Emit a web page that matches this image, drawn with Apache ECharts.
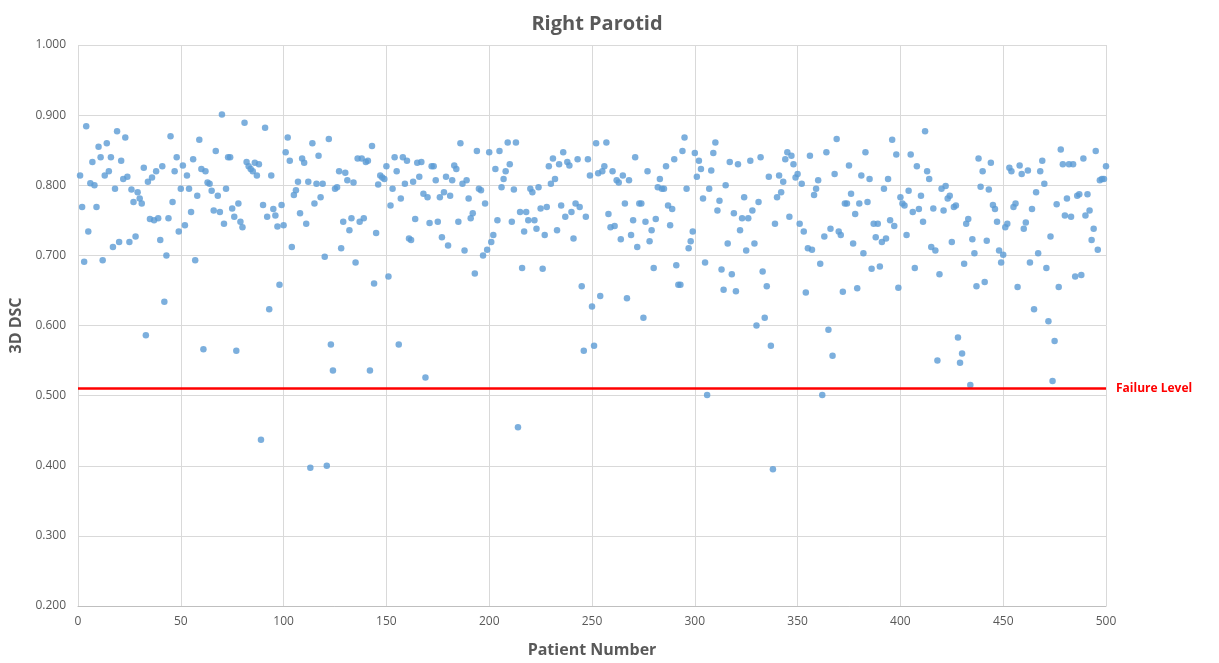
<!DOCTYPE html>
<html>
<head>
<meta charset="utf-8">
<script src="https://cdn.jsdelivr.net/npm/echarts@6/dist/echarts.min.js"></script>
<style>
html,body{margin:0;padding:0;background:#fff;}
#chart{width:1219px;height:663px;}
</style>
</head>
<body>
<div id="chart"></div>
<script>
// 3D DSC values for patients, in patient-number order (patient = position + 1)
const dscPart1 = [0.814,0.769,0.691,0.884,0.734,0.803,0.833,0.800,0.769,0.855,
  0.840,0.693,0.814,0.860,0.820,0.840,0.712,0.795,0.877,0.719,
  0.835,0.809,0.868,0.812,0.719,0.794,0.776,0.727,0.790,0.781,
  0.774,0.825,0.586,0.805,0.752,0.811,0.750,0.820,0.753,0.722,
  0.827,0.634,0.700,0.753,0.870,0.776,0.820,0.840,0.734,0.795,0.828];
const dscPart2 = [0.743,0.814,0.795,0.762,0.837,0.693,0.785,0.865,0.823,0.566,
  0.820,0.804,0.802,0.792,0.764,0.849,0.785,0.762,0.901,0.745,
  0.795,0.840,0.840,0.767,0.755,0.564,0.774,0.748,0.740,0.889,
  0.833,0.827,0.823,0.820,0.832,0.814,0.830,0.437,0.772,0.882,
  0.755,0.623,0.814,0.766,0.757,0.741,0.658,0.772,0.743,0.847];
const dscPart3 = [0.868,0.835,0.712,0.786,0.793,0.805,0.760,0.838,0.832,0.745,
  0.805,0.397,0.860,0.774,0.802,0.842,0.783,0.802,0.698,0.400,
  0.866,0.573,0.536,0.795,0.797,0.820,0.710,0.748,0.818,0.807,
  0.736,0.753,0.804,0.690,0.838,0.748,0.838,0.753,0.833,0.835,
  0.536,0.856,0.660,0.732,0.801,0.814,0.811,0.809,0.827,0.670];
const dscPart4 = [0.771,0.795,0.840,0.820,0.573,0.781,0.840,0.802,0.835,0.724,
  0.722,0.805,0.752,0.832,0.812,0.833,0.788,0.526,0.783,0.746,
  0.827,0.827,0.807,0.748,0.783,0.726,0.790,0.812,0.714,0.785,
  0.807,0.828,0.823,0.748,0.860,0.802,0.707,0.807,0.781,0.753,
  0.760,0.674,0.849,0.795,0.793,0.700,0.774,0.708,0.847,0.719,0.729];
const dscPart5 = [0.823,0.750,0.849,0.797,0.809,0.820,0.861,0.830,0.748,0.794,
  0.861,0.455,0.762,0.682,0.734,0.762,0.750,0.795,0.790,0.750,
  0.738,0.797,0.767,0.681,0.729,0.769,0.827,0.802,0.838,0.809,
  0.736,0.830,0.771,0.847,0.755,0.833,0.828,0.762,0.724,0.774,
  0.837,0.769,0.656,0.564,0.755,0.837,0.814,0.627,0.571,0.860,0.817,0.642];
const dscPart6 = [0.820,0.827,0.861,0.759,0.740,0.820,0.742,0.807,0.804,0.723,
  0.814,0.774,0.639,0.807,0.729,0.750,0.840,0.712,0.774,0.774,
  0.611,0.748,0.820,0.720,0.736,0.682,0.752,0.797,0.809,0.795,
  0.795,0.827,0.771,0.743,0.766,0.837,0.686,0.658,0.658,0.849,
  0.868,0.795,0.710,0.720,0.734,0.846,0.812,0.835];
const dscPart7 = [0.823,0.781,0.690,0.501,0.795,0.821,0.846,0.861,0.764,0.778,
  0.680,0.651,0.800,0.717,0.833,0.673,0.760,0.649,0.830,0.736,
  0.753,0.783,0.707,0.753,0.835,0.764,0.717,0.600,0.776,0.840,
  0.677,0.611,0.656,0.812,0.571,0.395,0.745,0.783,0.814,0.790,
  0.805,0.837,0.847,0.755,0.842,0.830,0.811,0.816,0.745,0.802,0.734];
const dscPart8 = [0.647,0.710,0.842,0.708,0.786,0.795,0.807,0.688,0.501,0.727,
  0.847,0.594,0.738,0.557,0.816,0.866,0.734,0.729,0.648,0.774,
  0.774,0.828,0.788,0.717,0.759,0.653,0.774,0.814,0.703,0.847,
  0.776,0.809,0.681,0.745,0.726,0.745,0.684,0.719,0.795,0.724,
  0.809,0.750,0.865,0.742,0.844,0.654,0.783,0.774,0.771,0.729];
const dscPart9 = [0.792,0.844,0.762,0.682,0.827,0.766,0.785,0.748,0.877,0.820,
  0.809,0.712,0.767,0.707,0.550,0.673,0.795,0.764,0.799,0.781,
  0.785,0.719,0.769,0.771,0.583,0.547,0.560,0.688,0.745,0.752,
  0.515,0.723,0.703,0.656,0.838,0.798,0.820,0.662,0.721,0.794,
  0.832,0.772,0.766,0.748,0.707,0.690,0.701,0.740,0.745,0.825,0.820];
const dscPart10 = [0.769,0.774,0.655,0.828,0.816,0.738,0.747,0.821,0.690,0.766,
  0.623,0.790,0.703,0.820,0.835,0.802,0.682,0.606,0.727,0.521,
  0.578,0.773,0.655,0.851,0.830,0.757,0.781,0.830,0.755,0.830,
  0.670,0.785,0.787,0.672,0.838,0.757,0.787,0.764,0.722,0.738,
  0.849,0.708,0.807,0.809,0.809,0.827];

const failureLevel = 0.507;
const titleText = 'Right Parotid';
const xAxisTitle = 'Patient Number';
const yAxisTitle = '3D DSC';
const failureLabel = 'Failure Level';

const dscValues = [].concat(dscPart1,dscPart2,dscPart3,dscPart4,dscPart5,
  dscPart6,dscPart7,dscPart8,dscPart9,dscPart10);
const points = dscValues.map((v,i) => [i + 1, v]);

const FONT = "'Open Sans', 'Liberation Sans', sans-serif";
const GREY = '#595959';

const chart = echarts.init(document.getElementById('chart'), null, {renderer:'canvas'});
chart.setOption({
  animation: false,
  backgroundColor: '#ffffff',
  textStyle: {fontFamily: FONT},
  title: {
    text: titleText,
    left: 592, top: 9, textAlign: 'center',
    textStyle: {fontSize: 20, fontWeight: 'bold', color: GREY, fontFamily: FONT}
  },
  grid: {left: 78, right: 113, top: 45, bottom: 50, containLabel: false},
  xAxis: {
    type: 'value', min: 0, max: 500, interval: 50,
    name: xAxisTitle, nameLocation: 'middle', nameGap: 36,
    nameTextStyle: {fontSize: 16, fontWeight: 'bold', color: GREY, fontFamily: FONT},
    axisLine: {show: true, lineStyle: {color: '#bfbfbf', width: 1}},
    axisTick: {show: false},
    axisLabel: {color: GREY, fontSize: 12, margin: 10, fontFamily: FONT},
    splitLine: {show: true, lineStyle: {color: '#d9d9d9', width: 1}}
  },
  yAxis: {
    type: 'value', min: 0.2, max: 1.0, interval: 0.1,
    name: yAxisTitle, nameLocation: 'middle', nameGap: 48, nameRotate: 90,
    nameTextStyle: {fontSize: 16, fontWeight: 'bold', color: GREY, fontFamily: FONT},
    axisLine: {show: false},
    axisTick: {show: false},
    axisLabel: {color: GREY, fontSize: 12, margin: 12, fontFamily: FONT,
      formatter: v => v.toFixed(3)},
    splitLine: {show: true, lineStyle: {color: '#d9d9d9', width: 1}}
  },
  series: [{
    type: 'scatter',
    data: points,
    symbol: 'circle',
    symbolSize: 6.5,
    itemStyle: {color: '#5b9bd5'},
    markLine: {
      silent: true,
      symbol: ['none','none'],
      lineStyle: {color: '#ff0000', width: 2.5, type: 'solid'},
      label: {show: true, position: 'end', formatter: failureLabel,
        color: '#ff0000', fontWeight: 'bold', fontSize: 12, fontFamily: FONT, distance: 10},
      data: [{yAxis: failureLevel}]
    }
  }]
});
</script>
</body>
</html>
